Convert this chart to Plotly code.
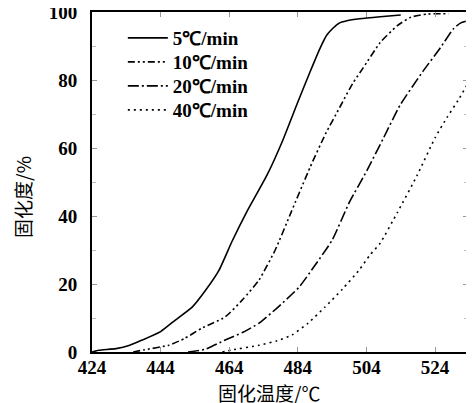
import plotly.graph_objects as go

# Data (curing temperature in °C, curing degree in %)
t_5 = [424, 426, 431, 435, 438.6, 444, 448.3, 453.2, 457, 461, 464.8, 469, 475, 479.5, 483.8, 487.6, 490.5, 492.5, 494.3, 496, 498.3, 502, 508, 514]
v_5 = [0, 0.5, 1, 2, 3.5, 6, 9.4, 13.2, 18, 24, 32.5, 41, 52, 62, 73, 82.5, 89.4, 93.3, 95.3, 96.7, 97.4, 98, 98.6, 99.1]

t_10 = [436, 439, 446.4, 451, 456, 462.8, 468, 472.7, 477.4, 482, 487.6, 492, 496.5, 500, 503, 508, 513, 517, 521.7, 528]
v_10 = [0, 0.6, 2, 4, 7, 10.3, 15.5, 21.2, 30, 41, 54.4, 64, 72.5, 79, 83.5, 91, 96, 98.5, 99.4, 99.5]

t_20 = [452, 457, 462.8, 468, 472.7, 478, 484.3, 489, 494, 499, 504.2, 509, 513.8, 520.5, 525.5, 529.3, 531.5, 533.6]
v_20 = [0, 0.8, 3.5, 5.8, 8.5, 13, 19, 25.5, 32.9, 44, 53.5, 63, 72.6, 82.6, 89.4, 95, 96.8, 97.5]

t_40 = [462, 464.8, 472.7, 478, 482.3, 487, 491.9, 497, 501.8, 505, 508, 513, 518.8, 524, 527.5, 530.7, 533.6]
v_40 = [0, 0.6, 2, 3.3, 5, 8.5, 13.2, 18.5, 24, 28.5, 32, 41, 52, 63, 69, 74, 79]

series_names = ["5℃/min", "10℃/min", "20℃/min", "40℃/min"]
x_ticks = [424, 444, 464, 484, 504, 524]
y_ticks = [0, 20, 40, 60, 80, 100]
x_title = "固化温度/℃"
y_title = "固化度/%"

dashes = ["solid", "7px,3px,2px,3px,2px,3px", "11px,3px,2px,3px", "2px,4px"]
legend_ids = ["legend", "legend2", "legend3", "legend4"]
legend_rows_px = [38, 62, 86, 110]

# figure is offset by the page's 8px body margin
W, H = 466, 395
ML, MR, MT, MB = 84, 6, 4, 51
plot_top = 8 + MT
plot_h = 8 + H - MB - plot_top
plot_w = 8 + W - MR - (8 + ML)

fig = go.Figure()
for t, v, name, d, lid in zip([t_5, t_10, t_20, t_40], [v_5, v_10, v_20, v_40], series_names, dashes, legend_ids):
    fig.add_trace(go.Scatter(x=t, y=v, mode="lines", name=name, legend=lid,
                             line=dict(color="black", width=1.6, dash=d, shape="spline", smoothing=0.5)))

tick_font = dict(family="Liberation Serif", size=19, color="black", weight="bold")
leg_font = dict(family="Liberation Serif", size=19, color="black", weight="bold")
cjk_font = dict(family="Noto Sans CJK SC", size=19, color="black")

layout_legends = {}
for lid, row in zip(legend_ids, legend_rows_px):
    layout_legends[lid] = dict(x=0.082, y=(8 + H - MB - row) / plot_h, xanchor="left", yanchor="middle",
                               bgcolor="rgba(0,0,0,0)", font=leg_font, itemwidth=40)

fig.update_layout(
    width=W, height=H,
    margin=dict(l=ML, r=MR, t=MT, b=MB, autoexpand=False),
    plot_bgcolor="white", paper_bgcolor="white",
    showlegend=True,
    xaxis=dict(range=[424, 533.6], tickvals=x_ticks, ticktext=[str(v) for v in x_ticks],
               showgrid=False, zeroline=False, showline=True, linecolor="black", linewidth=2,
               mirror="ticks", ticks="inside", ticklen=5, tickcolor="#999", tickfont=tick_font,
               ticklabelstandoff=-3, ticklabeloverflow="allow"),
    yaxis=dict(range=[0, 100], tickvals=y_ticks, ticktext=[str(v) for v in y_ticks],
               showgrid=False, zeroline=False, showline=True, linecolor="black", linewidth=2,
               mirror="ticks", ticks="inside", ticklen=5, tickcolor="#999", tickfont=tick_font,
               ticklabelstandoff=9, ticklabeloverflow="allow",
               minor=dict(dtick=10, ticks="inside", ticklen=4, tickcolor="#bbb")),
    **layout_legends,
)

fig.add_annotation(text=x_title, xref="paper", yref="paper",
                   x=(269 - 92) / plot_w, y=(352 - 392) / plot_h,
                   showarrow=False, font=cjk_font, xanchor="center", yanchor="middle")
fig.add_annotation(text=y_title, xref="paper", yref="paper",
                   x=(22 - 92) / plot_w, y=(352 - 197) / plot_h, textangle=-90,
                   showarrow=False, font=cjk_font, xanchor="center", yanchor="middle")

fig.write_html("out.html")
